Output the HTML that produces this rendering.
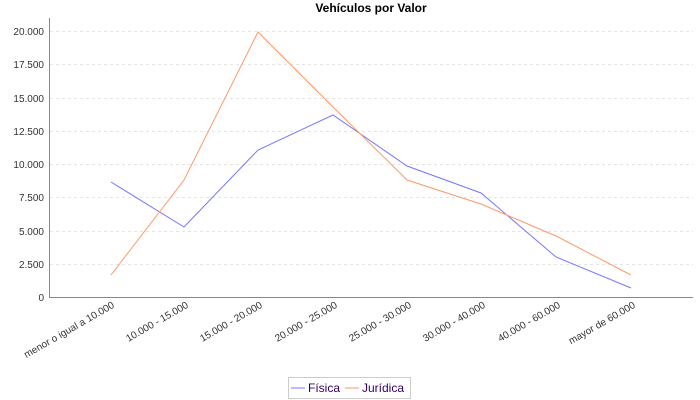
<!DOCTYPE html>
<html><head><meta charset="utf-8"><style>body{margin:0;background:#fff}svg{display:block}</style></head><body>
<svg width="700" height="400" xmlns="http://www.w3.org/2000/svg" font-family="Liberation Sans, sans-serif">
<rect width="700" height="400" fill="#fff"/>
<text x="371" y="12" font-size="12" font-weight="bold" text-anchor="middle">Vehículos por Valor</text>
<g stroke="#e4e4e4" stroke-dasharray="3,3" stroke-width="1">
<line x1="50" x2="693" y1="31.5" y2="31.5"/><line x1="50" x2="693" y1="64.5" y2="64.5"/><line x1="50" x2="693" y1="98.5" y2="98.5"/><line x1="50" x2="693" y1="131.5" y2="131.5"/><line x1="50" x2="693" y1="164.5" y2="164.5"/><line x1="50" x2="693" y1="197.5" y2="197.5"/><line x1="50" x2="693" y1="231.5" y2="231.5"/><line x1="50" x2="693" y1="264.5" y2="264.5"/>
</g>
<line x1="49.5" y1="18" x2="49.5" y2="297" stroke="#888"/>
<line x1="49" y1="297.5" x2="693" y2="297.5" stroke="#888"/>
<g font-size="10" fill="#333" text-anchor="end">
<text x="44" y="35">20.000</text><text x="44" y="68">17.500</text><text x="44" y="102">15.000</text><text x="44" y="135">12.500</text><text x="44" y="168">10.000</text><text x="44" y="201">7.500</text><text x="44" y="235">5.000</text><text x="44" y="268">2.500</text><text x="44" y="301">0</text>
</g>
<g font-size="10" fill="#333" text-anchor="end">
<text transform="translate(115,307) rotate(-30)">menor o igual a 10.000</text>
<text transform="translate(189,307) rotate(-30)">10.000 - 15.000</text>
<text transform="translate(263,307) rotate(-30)">15.000 - 20.000</text>
<text transform="translate(338,307) rotate(-30)">20.000 - 25.000</text>
<text transform="translate(412,307) rotate(-30)">25.000 - 30.000</text>
<text transform="translate(486,307) rotate(-30)">30.000 - 40.000</text>
<text transform="translate(561,307) rotate(-30)">40.000 - 60.000</text>
<text transform="translate(636,307) rotate(-30)">mayor de 60.000</text>
</g>
<polyline fill="none" stroke="#7777ff" stroke-width="1" points="111,182 184,227 258,150 333,115 407,166 481,193 556,257 631,288"/>
<polyline fill="none" stroke="#ff9966" stroke-width="1" points="111,275 184,180 258,32 333,107 407,180 481,204 556,236 631,275"/>
<rect x="288.5" y="377.5" width="122" height="21" fill="#fff" stroke="#ccc"/>
<line x1="291" y1="388" x2="305" y2="388" stroke="#7777ff"/>
<text x="308" y="392" font-size="12" fill="#330066">Física</text>
<line x1="345" y1="388" x2="359" y2="388" stroke="#ff9966"/>
<text x="362" y="392" font-size="12" fill="#330066">Jurídica</text>
</svg>
</body></html>
